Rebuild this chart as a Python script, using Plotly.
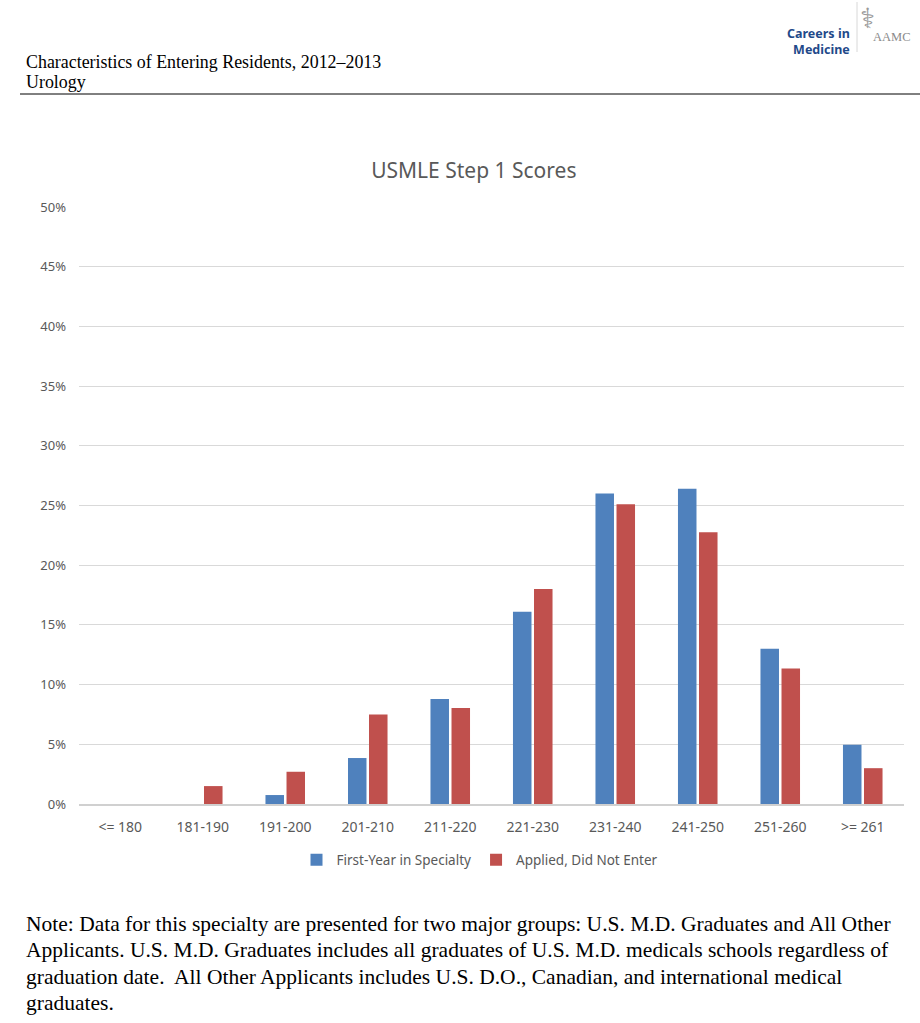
import plotly.graph_objects as go

categories = ["<= 180", "181-190", "191-200", "201-210", "211-220",
              "221-230", "231-240", "241-250", "251-260", ">= 261"]
first_year = [0, 0, 0.75, 3.85, 8.8, 16.1, 26.0, 26.4, 13.0, 4.97]
applied_not = [0, 1.5, 2.7, 7.5, 8.05, 18.0, 25.1, 22.75, 11.35, 3.0]
y_ticks = [0, 5, 10, 15, 20, 25, 30, 35, 40, 45, 50]
y_tick_text = [f"{v}%" for v in y_ticks]

W, H = 920, 1023
L, R, T, B = 79, 16, 207, 219
PW, PH = W - L - R, H - T - B


def px(x):
    return (x - L) / PW


def py(y):
    return (H - B - y) / PH


fig = go.Figure()
fig.add_trace(go.Bar(x=categories, y=first_year, name="First-Year in Specialty",
                     marker=dict(color="#4F81BD", line=dict(width=0))))
fig.add_trace(go.Bar(x=categories, y=applied_not, name="Applied, Did Not Enter",
                     marker=dict(color="#C0504D", line=dict(width=0))))

fig.update_layout(
    width=W, height=H,
    margin=dict(l=L, r=R, t=T, b=B),
    paper_bgcolor="white", plot_bgcolor="white",
    barmode="group", bargap=0.49, bargroupgap=0.12,
    font=dict(family="Noto Sans", color="#595959", size=12),
    title=dict(text="USMLE Step 1 Scores", x=0.515, xanchor="center",
               y=1 - 171 / H, yanchor="middle",
               font=dict(family="Noto Sans", size=21, color="#595959")),
    legend=dict(orientation="h", x=px(480), xanchor="center", y=py(860), yanchor="middle",
                font=dict(size=13.5, color="#595959"), itemwidth=30, traceorder="normal"),
    showlegend=True,
)
fig.update_yaxes(range=[0, 50], tickmode="array", tickvals=y_ticks, ticktext=y_tick_text,
                 showgrid=True, gridcolor="#D9D9D9", gridwidth=1, zeroline=False, showline=False,
                 ticklabelstandoff=12, tickfont=dict(size=13, color="#595959"))
fig.update_xaxes(showline=True, linecolor="#D0D0D0", linewidth=2, ticks="",
                 ticklabelstandoff=9, tickfont=dict(size=14, color="#595959"))

shapes = [
    dict(type="line", xref="paper", yref="paper", x0=px(20), x1=px(920), y0=py(94), y1=py(94),
         line=dict(color="black", width=1)),
    dict(type="line", xref="paper", yref="paper", x0=px(857), x1=px(857), y0=py(2), y1=py(52),
         line=dict(color="#D8D8D8", width=1)),
]
fig.update_layout(shapes=shapes)

ann = []
ann.append(dict(text="Characteristics of Entering Residents, 2012\u20132013", x=px(24), y=py(62),
                xanchor="left", yanchor="middle",
                font=dict(family="Liberation Serif", size=17.9, color="black")))
ann.append(dict(text="Urology", x=px(24), y=py(82), xanchor="left", yanchor="middle",
                font=dict(family="Liberation Serif", size=17.9, color="black")))
ann.append(dict(text="<b>Careers in</b><br><b>Medicine</b>", x=px(852), y=py(41),
                xanchor="right", yanchor="middle", align="right",
                font=dict(family="Noto Sans", size=12.5, color="#1F4A8A")))
ann.append(dict(text="\u2695", x=px(867), y=py(18), xanchor="center", yanchor="middle",
                font=dict(family="DejaVu Sans", size=28, color="#9A9A9A")))
ann.append(dict(text="AAMC", x=px(871), y=py(37), xanchor="left", yanchor="middle",
                font=dict(family="Liberation Serif", size=12.5, color="#8A8A8A")))

note_lines = [
    "Note: Data for this specialty are presented for two major groups: U.S. M.D. Graduates and All Other",
    "Applicants. U.S. M.D. Graduates includes all graduates of U.S. M.D. medicals schools regardless of",
    "graduation date.  All Other Applicants includes U.S. D.O., Canadian, and international medical",
    "graduates.",
]
note_y = [924, 950, 977, 1003]
for t, yy in zip(note_lines, note_y):
    ann.append(dict(text=t, x=px(24), y=py(yy), xanchor="left", yanchor="middle",
                    font=dict(family="Liberation Serif", size=21.5, color="black")))
for a in ann:
    a.update(xref="paper", yref="paper", showarrow=False)
fig.update_layout(annotations=ann)

fig.write_html("out.html", config={"displayModeBar": False},
               post_script="document.body.style.margin='0px';")
